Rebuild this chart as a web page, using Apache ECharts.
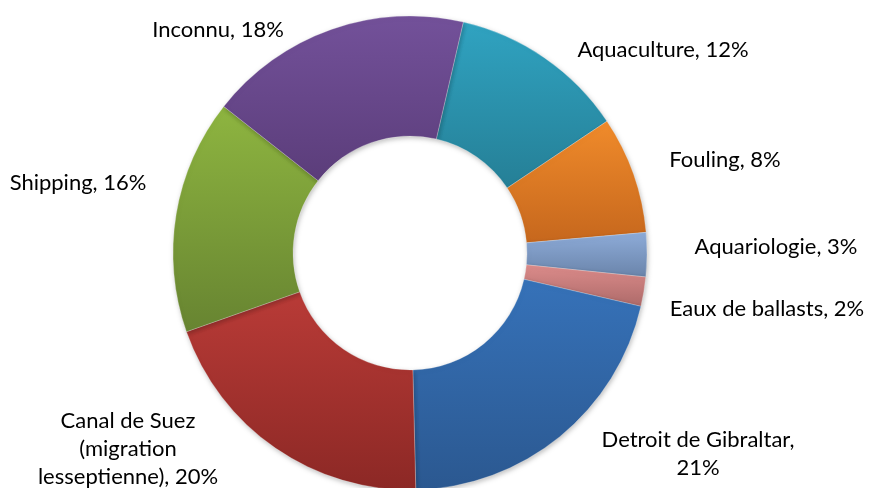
<!DOCTYPE html>
<html>
<head>
<meta charset="utf-8">
<script src="https://cdn.jsdelivr.net/npm/echarts@6/dist/echarts.min.js"></script>
<style>
  html, body { margin: 0; padding: 0; background: #fff; }
  #main { width: 869px; height: 488px; }
</style>
</head>
<body>
<div id="main"></div>
<script>
// donnees (ordre horaire depuis le haut)
var categories = ['Aquaculture', 'Fouling', 'Aquariologie', 'Eaux de ballasts',
  'Detroit de Gibraltar', 'Canal de Suez (migration lesseptienne)', 'Shipping', 'Inconnu'];
var values = [12, 8, 3, 2, 21, 20, 16, 18];
var labelTexts = ['Aquaculture, 12%', 'Fouling, 8%', 'Aquariologie, 3%', 'Eaux de ballasts, 2%',
  'Detroit de Gibraltar,\n21%', 'Canal de Suez\n(migration\nlesseptienne), 20%', 'Shipping, 16%', 'Inconnu, 18%'];

// couleurs degradees (haut, bas)
var topColors = ['#30a3c1', '#f08b2b', '#8eacd9', '#dc8c8b', '#3672b9', '#b93b37', '#8eb540', '#73519a'];
var bottomColors = ['#257f96', '#c6671d', '#6a84aa', '#ad6a69', '#2b5890', '#8c2825', '#678431', '#5b3d7a'];

// positions des etiquettes (centre, px)
var labelX = [663, 725, 776, 767, 698, 128, 78, 218];
var labelY = [50, 160, 247, 309, 454, 449, 183, 30];

var myChart = echarts.init(document.getElementById('main'));

var seriesData = categories.map(function (name, i) {
  return {
    name: name,
    value: values[i],
    itemStyle: {
      color: new echarts.graphic.LinearGradient(0, 0, 0, 1, [
        { offset: 0, color: topColors[i] },
        { offset: 1, color: bottomColors[i] }
      ])
    }
  };
});

myChart.setOption({
  animation: false,
  series: [{
    type: 'pie',
    center: [410, 253],
    radius: [117, 237],
    startAngle: 77,
    clockwise: true,
    data: seriesData,
    itemStyle: {
      borderColor: 'rgba(255,255,255,0.5)',
      borderWidth: 0.5,
      shadowBlur: 5,
      shadowColor: 'rgba(0,0,0,0.25)',
      shadowOffsetX: 1,
      shadowOffsetY: 2
    },
    label: {
      show: true,
      position: 'outside',
      formatter: function (p) { return labelTexts[p.dataIndex]; },
      fontFamily: 'Lato',
      fontSize: 22,
      lineHeight: 28,
      color: '#000',
      align: 'center',
      overflow: 'none'
    },
    labelLine: { show: false },
    labelLayout: function (p) {
      return {
        x: labelX[p.dataIndex],
        y: labelY[p.dataIndex],
        align: 'center',
        verticalAlign: 'middle'
      };
    }
  }]
});
</script>
</body>
</html>
